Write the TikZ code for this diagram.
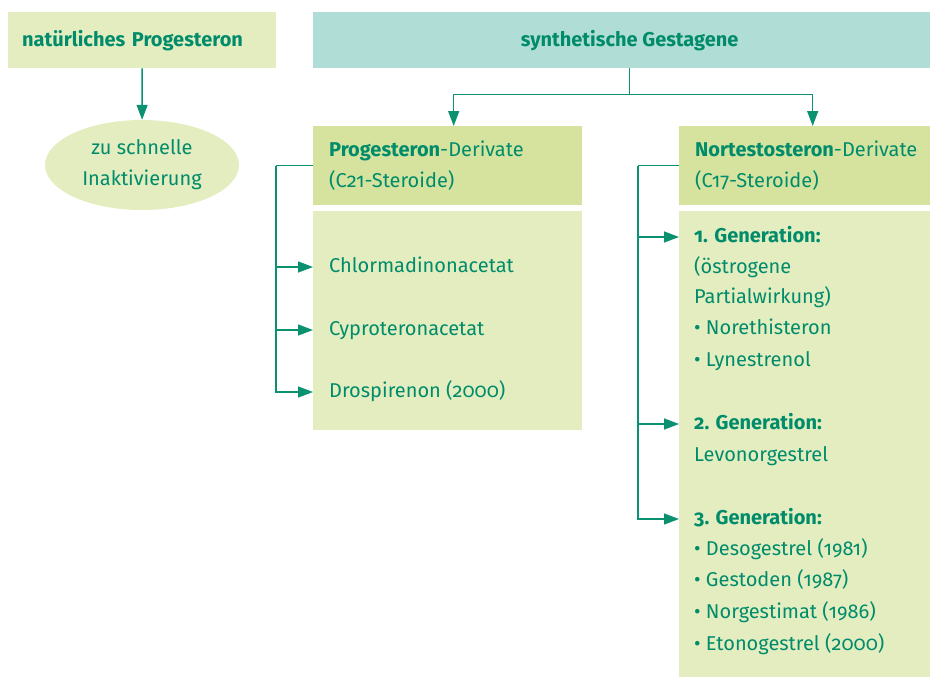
\documentclass[tikz,border=0pt]{standalone}
\usepackage{fontspec}
\setmainfont{Fira Sans}[Numbers=OldStyle]
\usetikzlibrary{shapes.geometric,arrows.meta,positioning}
\definecolor{txtgreen}{RGB}{0,140,106}
\definecolor{linegreen}{RGB}{10,145,112}
\definecolor{palegreen}{RGB}{227,237,192}
\definecolor{headgreen}{RGB}{213,227,159}
\definecolor{tealbox}{RGB}{176,221,214}
\begin{document}
\begin{tikzpicture}[x=1pt,y=-1pt,
    conn/.style={draw=linegreen,line width=1.4pt},
    arr/.style={-{Triangle[length=15pt,width=11pt]}}]
  \useasboundingbox (0,0) rectangle (934,677);
  \begin{scope}[every node/.style={inner sep=0pt,anchor=north west,text=txtgreen,font=\fontsize{20}{31}\selectfont}]
    \node[fill=palegreen,minimum width=268pt,minimum height=56pt,text width=240pt,inner xsep=14pt,align=left,font=\fontsize{20}{31}\selectfont\bfseries] (nat) at (8,12) {natürliches Progesteron};
    \node[fill=tealbox,minimum width=617pt,minimum height=56pt,font=\fontsize{20}{31}\selectfont\bfseries] (syn) at (313,12) {\hspace*{16pt}synthetische Gestagene};
    \node[ellipse,fill=palegreen,minimum width=194pt,minimum height=90pt,anchor=center,align=center] (inak) at (142,165) {zu schnelle\\Inaktivierung};
    \node[fill=headgreen,minimum width=269pt,minimum height=79pt,text width=237pt,inner xsep=16pt,align=left] (phead) at (313,126) {\textbf{Progesteron}-Derivate\\(C21-Steroide)};
    \node[fill=palegreen,minimum width=269pt,minimum height=219pt] (plist) at (313,211) {};
    \node[fill=headgreen,minimum width=251pt,minimum height=79pt,text width=219pt,inner xsep=16pt,align=left] (nhead) at (679,126) {\mbox{\textbf{Nortestosteron}-Derivate}\\(C17-Steroide)};
    \node[fill=palegreen,minimum width=251pt,minimum height=466pt] (nlist) at (679,211) {};
  \end{scope}
  \begin{scope}[every node/.style={inner sep=0pt,anchor=west,text height=14.5pt,text depth=4pt,text=txtgreen,font=\fontsize{20}{31}\selectfont}]
    \node (p1) at (329,267) {Chlormadinonacetat};
    \node (p2) at (329,330) {Cyproteronacetat};
    \node (p3) at (329,392) {Drospirenon (2000)};
    \foreach \i/\y/\t in {1/237/{\textbf{1. Generation:}},2/268/{(östrogene},3/298/{Partialwirkung)},
        4/329/{• Norethisteron},5/361/{• Lynestrenol},6/424/{\textbf{2. Generation:}},7/456/{Levonorgestrel},
        8/519/{\textbf{3. Generation:}},9/550/{• Desogestrel (1981)},10/581/{• Gestoden (1987)},
        11/613/{• Norgestimat (1986)},12/645/{• Etonogestrel (2000)}}
      \node (n\i) at (694,\y) {\t};
  \end{scope}
  % connectors
  \draw[conn,arr] (nat) -- (inak);
  \draw[conn] ([xshift=8pt]syn.south) -- ++(0,26) coordinate (split);
  \draw[conn,arr] (split) -| ([xshift=6pt]phead.north);
  \draw[conn,arr] (split) -| ([xshift=8pt]nhead.north);
  \draw[conn] (phead.west) -- ++(-37,0) coordinate (pb);
  \foreach \k in {1,2,3}
    \draw[conn,arr] (pb) |- (plist.west |- p\k);
  \draw[conn] (nhead.west) -- ++(-41,0) coordinate (nb);
  \foreach \k in {1,6,8}
    \draw[conn,arr] (nb) |- (nlist.west |- n\k);
\end{tikzpicture}
\end{document}
